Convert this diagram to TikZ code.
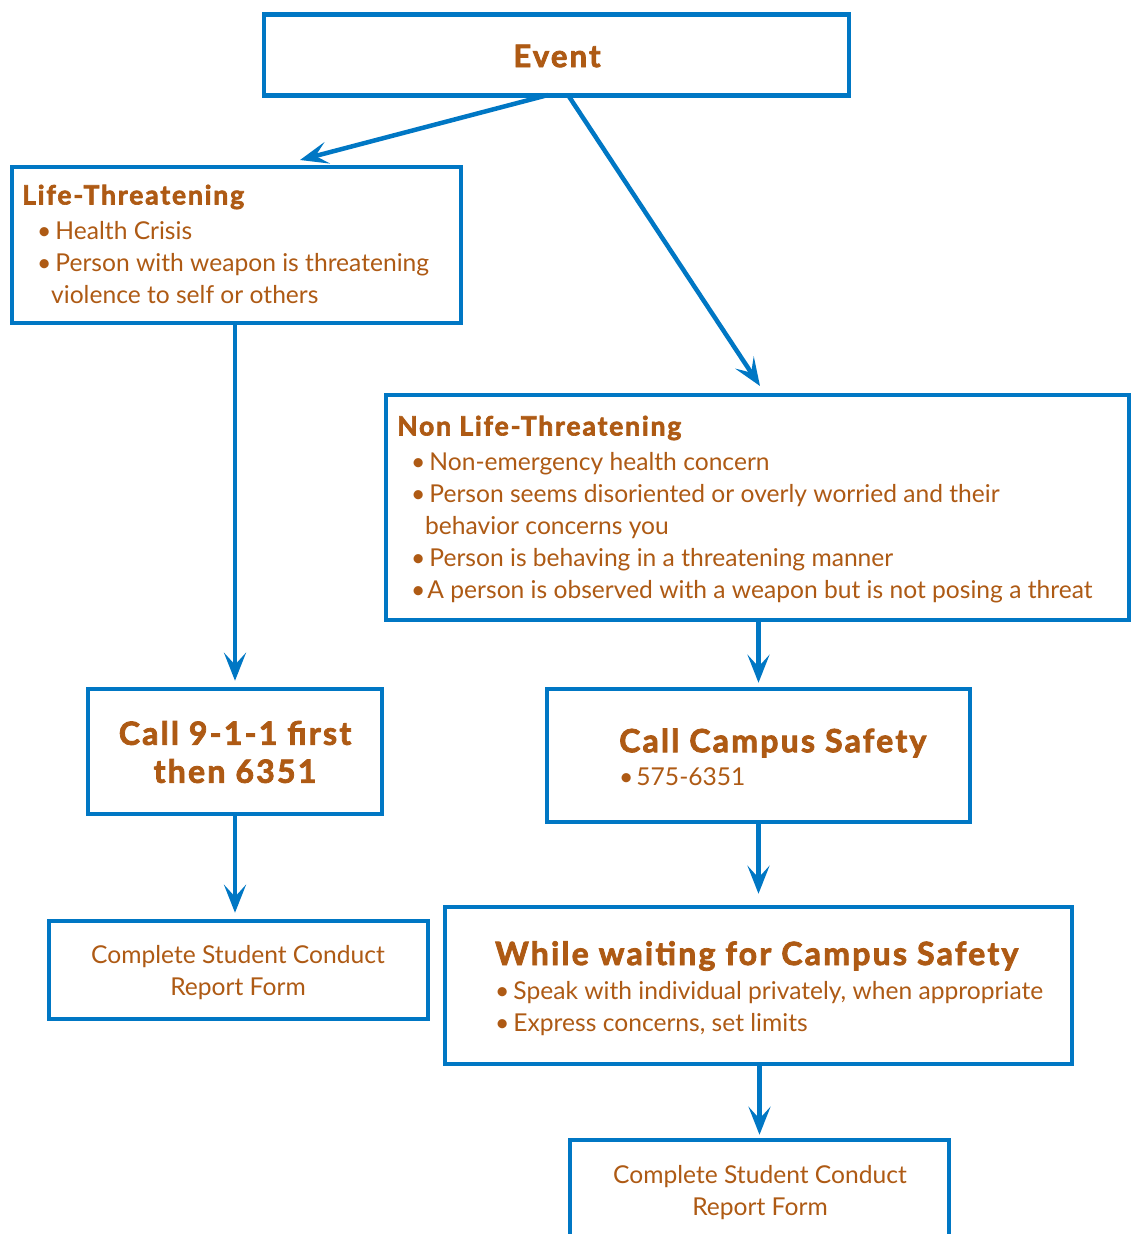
\documentclass[tikz,border=0pt]{standalone}
\usepackage{fontspec}
\setmainfont{Lato}
\newfontfamily\heavy{Lato}[FakeBold=2.5,LetterSpace=7]
\usetikzlibrary{arrows.meta}
\definecolor{fblue}{HTML}{0077C4}
\definecolor{ftext}{HTML}{AE5A14}
\begin{document}
\begin{tikzpicture}[x=1pt,y=-1pt,
  box/.style={draw=fblue,line width=4.5pt,rectangle,inner sep=0pt},
  conn/.style={draw=fblue,line width=4.5pt,-{Stealth[length=28pt,width=22pt,inset=12pt]}},
  body/.style={text=ftext,inner sep=0pt,align=left,font=\fontsize{24.6}{32}\selectfont},
  bodyc/.style={text=ftext,inner sep=0pt,align=center,font=\fontsize{24.6}{32}\selectfont},
  head/.style={text=ftext,inner sep=0pt,align=left,font=\fontsize{26.5}{32}\selectfont\heavy\bfseries},
  big/.style={text=ftext,inner sep=0pt,align=center,font=\fontsize{32}{38}\selectfont\heavy\bfseries}]
\clip (0,0) rectangle (1133,1234);
\fill[white] (0,0) rectangle (1133,1234);
% boxes
\node[box,minimum width=585pt,minimum height=81pt] (event) at (556.5,55) {};
\node[box,minimum width=449pt,minimum height=156pt] (life) at (236.5,245) {};
\node[box,minimum width=743pt,minimum height=225pt] (non) at (757.5,507.5) {};
\node[box,minimum width=294pt,minimum height=125pt] (call911) at (235,751.5) {};
\node[box,minimum width=423pt,minimum height=133pt] (campus) at (758.5,755.5) {};
\node[box,minimum width=379pt,minimum height=98pt] (compL) at (238.5,970) {};
\node[box,minimum width=627pt,minimum height=157pt] (wait) at (758.5,985.5) {};
\node[box,minimum width=379pt,minimum height=140pt] (compR) at (759.5,1210) {};
% texts
\node[big,font=\fontsize{31}{36}\selectfont\heavy\bfseries] (tevent) at (557,56) {Event};
\node[head,anchor=west] (tlifeh) at (22,197) {Life-Threatening};
\node[body,anchor=north west] (tlife) at (37,221) {•\hspace{4pt}Health Crisis\\
•\hspace{4pt}Person with weapon is threatening\\
\hspace{14pt}violence to self or others};
\node[head,anchor=west] (tnonh) at (397,428) {Non Life-Threatening};
\node[body,anchor=north west] (tnon) at (411,452) {•\hspace{4pt}Non-emergency health concern\\
•\hspace{4pt}Person seems disoriented or overly worried and their\\
\hspace{14pt}behavior concerns you\\
•\hspace{4pt}Person is behaving in a threatening manner\\
•\hspace{2pt}A person is observed with a weapon but is not posing a threat};
\node[big] (t911) at (235,752) {Call 9-1-1 first\\then 6351};
\node[big,anchor=west] (tcampush) at (619,743) {Call Campus Safety};
\node[body,anchor=west] (tcampus) at (619,777) {•\hspace{3pt}575-6351};
\node[bodyc] (tcompL) at (238,973) {Complete Student Conduct\\Report Form};
\node[big,anchor=west] (twaith) at (495,956) {While waiting for Campus Safety};
\node[body,anchor=north west] (twait) at (495,981) {•\hspace{4pt}Speak with individual privately, when appropriate\\
•\hspace{4pt}Express concerns, set limits};
\node[bodyc] (tcompR) at (760,1193) {Complete Student Conduct\\Report Form};
% connectors
\coordinate (e1) at (548,95);
\coordinate (e2) at (568,95);
\coordinate (l1) at (300,160);
\coordinate (n1) at (760,386);
\draw[conn] (e1) -- (l1);
\draw[conn] (e2) -- (n1);
\draw[conn,shorten >=6pt] (life.south -| call911.north) -- (call911.north);
\draw[conn,shorten >=4pt] (non.south -| campus.north) -- (campus.north);
\draw[conn,shorten >=6pt] (call911.south) -- (call911.south |- compL.north);
\draw[conn,shorten >=11pt] (campus.south) -- (campus.south |- wait.north);
\draw[conn,shorten >=3pt] (wait.south -| compR.north) -- (compR.north);
\end{tikzpicture}
\end{document}
